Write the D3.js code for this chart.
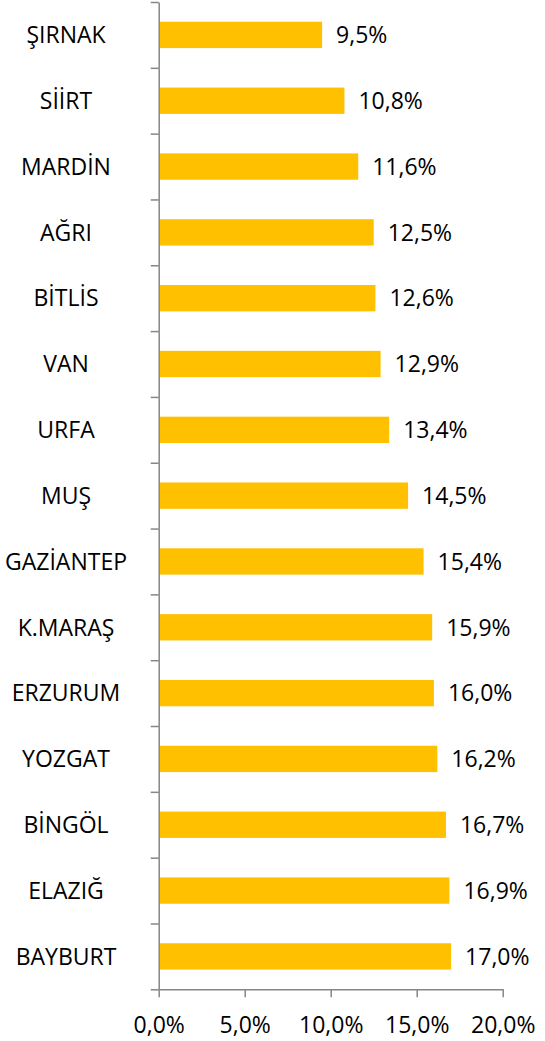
<!DOCTYPE html>
<html>
<head>
<meta charset="utf-8">
<script src="https://cdn.jsdelivr.net/npm/d3@7"></script>
<style>
  body { margin: 0; background: #fff; }
  text { font-family: "Open Sans", sans-serif; fill: #000; }
</style>
</head>
<body>
<div id="bar-container"></div>
<script>
const provinces = ['ŞIRNAK', 'SİİRT', 'MARDİN', 'AĞRI', 'BİTLİS', 'VAN', 'URFA', 'MUŞ',
  'GAZİANTEP', 'K.MARAŞ', 'ERZURUM', 'YOZGAT', 'BİNGÖL', 'ELAZIĞ', 'BAYBURT'];
const shares = [9.5, 10.8, 11.6, 12.5, 12.6, 12.9, 13.4, 14.5, 15.4, 15.9, 16.0, 16.2, 16.7, 16.9, 17.0];
const xTicks = [0, 5, 10, 15, 20];

const width = 545;
const height = 1041;
const margin = {
  top: 2, bottom: 989.3, left: 158.7, right: 502.7,
};
const axisColor = '#868686';
const fontSize = '23px';
const fmt = (v) => `${v.toFixed(1).replace('.', ',')}%`;

const svg = d3.select('#bar-container')
  .append('svg')
  .attr('width', width)
  .attr('height', height);

const x = d3.scaleLinear().domain([0, 20]).range([margin.left, margin.right]);
const y = d3.scaleBand()
  .domain(provinces)
  .range([margin.top, margin.bottom])
  .paddingInner(0.6)
  .paddingOuter(0.3);
// boundary ticks on the category axis
const yEdge = d3.scaleLinear().domain([0, provinces.length]).range([margin.top, margin.bottom]);

// bars
svg.append('g')
  .selectAll('rect')
  .data(provinces)
  .enter()
  .append('rect')
  .attr('x', x(0) + 1)
  .attr('y', (d) => y(d))
  .attr('width', (d, i) => x(shares[i]) - x(0) - 1)
  .attr('height', y.bandwidth())
  .style('fill', '#FFC000');

// value labels
svg.append('g')
  .selectAll('text')
  .data(provinces)
  .enter()
  .append('text')
  .attr('x', (d, i) => x(shares[i]) + 14)
  .attr('y', (d) => y(d) + y.bandwidth() / 2)
  .attr('dy', '0.36em')
  .style('font-size', fontSize)
  .text((d, i) => fmt(shares[i]));

// category labels
svg.append('g')
  .selectAll('text')
  .data(provinces)
  .enter()
  .append('text')
  .attr('x', 66)
  .attr('y', (d) => y(d) + y.bandwidth() / 2)
  .attr('dy', '0.36em')
  .attr('text-anchor', 'middle')
  .style('font-size', fontSize)
  .text((d) => d);

// y axis
const yAxis = svg.append('g')
  .attr('transform', `translate(${margin.left},0)`)
  .call(d3.axisLeft(yEdge).ticks(provinces.length).tickSize(8).tickSizeOuter(0).tickFormat(''));

// x axis
const xAxis = svg.append('g')
  .attr('transform', `translate(0,${margin.bottom})`)
  .call(d3.axisBottom(x).tickValues(xTicks).tickSize(8).tickSizeOuter(0).tickFormat(fmt));

[yAxis, xAxis].forEach((g) => {
  g.select('.domain').attr('stroke', axisColor).attr('stroke-width', 1.5);
  g.selectAll('.tick line').attr('stroke', axisColor).attr('stroke-width', 1.5);
});

xAxis.selectAll('.tick text')
  .attr('y', 0)
  .attr('dy', 44)
  .style('font-size', fontSize)
  .attr('fill', '#000');
</script>
</body>
</html>
